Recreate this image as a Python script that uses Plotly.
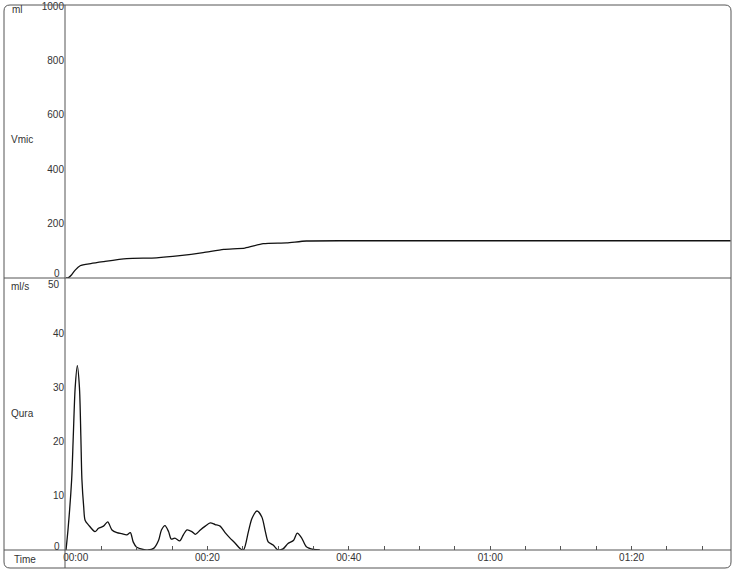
import plotly.graph_objects as go

# volume (ml)
vol_t = [0, 0.3, 0.8, 1.3, 2.0, 3.5, 5.3, 8.6, 12.8, 16.1, 19.4, 22.3, 25.3, 27.9, 31.2, 34.0, 41.6, 94]
vol_ml = [0, 0.5, 12, 29, 45, 53, 60, 71, 74, 82, 93, 105, 110, 126, 129, 136, 137, 137]

# flow (ml/s)
flow_t = [0, 0.3, 0.8, 1.03, 1.3, 1.6, 1.9, 2.1, 2.25, 2.5, 2.7, 3.2, 4.1, 4.6, 5.3, 5.9, 6.5,
          7.2, 7.9, 8.6, 9.1, 9.5, 10.0, 10.9, 11.6, 12.4, 13.1, 13.5, 14.0, 14.5, 14.9,
          15.4, 16.1, 16.6, 17.1, 17.8, 18.3, 19.0, 19.7, 20.4, 21.1, 21.8, 22.5, 23.2,
          23.9, 24.6, 25.1, 25.8, 26.3, 27.0, 27.7, 28.2, 28.6, 29.3, 30.0, 30.7, 31.4,
          32.2, 32.7, 33.3, 34.0, 35.0, 35.9]
flow_q = [0, 4, 13, 21, 30, 34, 30, 21, 13, 8, 5.5, 4.6, 3.4, 4.0, 4.4, 5.2, 3.7,
          3.2, 3.0, 2.8, 3.2, 1.5, 0.5, 0.1, 0, 0.3, 1.8, 3.7, 4.5, 3.4, 2.0,
          2.2, 1.7, 2.8, 3.7, 3.4, 2.9, 3.7, 4.4, 5.0, 4.7, 4.4, 3.2, 2.2,
          1.3, 0.3, 0, 3.4, 5.8, 7.2, 6.1, 3.4, 1.5, 0.9, 0, 0.2, 1.2,
          1.8, 3.1, 2.3, 0.6, 0.1, 0]

x_ticks = list(range(0, 95, 5))
x_labels = {0: '\u00a0\u00a0\u00a0\u00a0\u00a0\u00a0\u00a000:00', 20: '00:20', 40: '00:40', 60: '01:00', 80: '01:20'}
vol_ticks = [200, 400, 600, 800, 1000]
flow_ticks = [10, 20, 30, 40]

W, H = 740, 574
L, R, T, B = 65, 731, 5, 550


def px(x):
    return (x - L) / (R - L)


def py(y):
    return (B - y) / (B - T)


split = py(278)
font = dict(family='Liberation Sans, Arial, sans-serif', size=10, color='#333')
line_col = '#555'

fig = go.Figure()
fig.add_trace(go.Scatter(x=vol_t, y=vol_ml, yaxis='y2', mode='lines',
                         line=dict(color='#111', width=1.3, shape='spline', smoothing=0.6)))
fig.add_trace(go.Scatter(x=flow_t, y=flow_q, yaxis='y', mode='lines',
                         line=dict(color='#111', width=1.3, shape='spline', smoothing=0.8)))

fig.update_layout(
    width=W, height=H,
    margin=dict(l=L, r=W - R, t=T, b=H - B, autoexpand=False),
    paper_bgcolor='white', plot_bgcolor='white',
    showlegend=False,
    font=font,
    xaxis=dict(range=[-1 / 7.07, (R - 66) / 7.07], tickvals=x_ticks,
               ticktext=[x_labels.get(t, '') for t in x_ticks],
               ticks='inside', ticklen=4, tickcolor=line_col, tickwidth=1, automargin=False,
               showgrid=False, zeroline=False, showline=False, tickfont=font),
    yaxis=dict(domain=[0, split], range=[0, 50 + 1 / 5.42], tickvals=flow_ticks,
               ticks='', showgrid=False, zeroline=False, showline=False, tickfont=font,
               automargin=False),
    yaxis2=dict(domain=[split, 1], range=[0, 1000 + 1 / 0.272], tickvals=vol_ticks,
                anchor='x', ticks='', showgrid=False, zeroline=False, showline=False,
                tickfont=font, automargin=False),
)

# frame: rounded border, separators, y-axis line
x0, x1, y0, y1 = px(4), px(731), py(568), py(5)
rx, ry = 6 / (R - L), 6 / (B - T)
frame = (f'M {x0 + rx},{y1} L {x1 - rx},{y1} Q {x1},{y1} {x1},{y1 - ry} '
         f'L {x1},{y0 + ry} Q {x1},{y0} {x1 - rx},{y0} '
         f'L {x0 + rx},{y0} Q {x0},{y0} {x0},{y0 + ry} '
         f'L {x0},{y1 - ry} Q {x0},{y1} {x0 + rx},{y1} Z')
fig.add_shape(type='path', path=frame, xref='paper', yref='paper', line=dict(color=line_col, width=1))
for yy in [0, split]:
    fig.add_shape(type='line', xref='paper', yref='paper', x0=x0, x1=x1, y0=yy, y1=yy,
                  line=dict(color=line_col, width=1))
fig.add_shape(type='line', xref='paper', yref='paper', x0=0, x1=0, y0=y0, y1=y1,
              line=dict(color=line_col, width=1))

# side labels and the shifted end tick labels
for text, x, y, anchor in [('ml', 10, 9, 'left'), ('Vmic', 9, 140, 'left'),
                           ('ml/s', 9, 286, 'left'), ('Qura', 9, 413, 'left'),
                           ('Time', 12, 559, 'left'), ('0', 62, 273, 'right'),
                           ('50', 62, 284, 'right'), ('0', 62, 546, 'right')]:
    fig.add_annotation(text=text, x=px(x), y=py(y), xref='paper', yref='paper',
                       xanchor=anchor, yanchor='middle', showarrow=False, font=font)

# the page's default 8px body margin would shift the whole chart
fig.write_html('out.html', config={'displayModeBar': False},
               post_script="document.body.style.margin='0px';")
